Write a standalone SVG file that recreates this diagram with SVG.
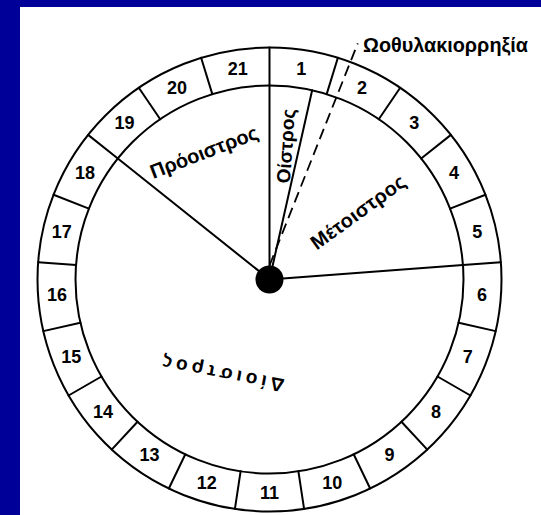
<svg xmlns="http://www.w3.org/2000/svg" width="541" height="515" viewBox="0 0 541 515">
<style>
.ln{stroke:#000;stroke-width:2;fill:none;stroke-linecap:round}
.dash{stroke:#000;stroke-width:1.8;fill:none;stroke-dasharray:11 6}
.num{font-family:"Liberation Sans",Arial,sans-serif;font-weight:bold;font-size:18px;fill:#000;text-anchor:middle;dominant-baseline:central}
.lbl{font-family:"Liberation Sans",Arial,sans-serif;font-weight:bold;font-size:20px;fill:#000;text-anchor:middle;dominant-baseline:central}
</style>
<rect x="0" y="0" width="541" height="515" fill="#000099"/>
<rect x="20" y="7" width="521" height="508" fill="#ffffff"/>
<g id="wheel" transform="translate(269.5,279.5)">
<circle class="ln" r="232"/>
<circle class="ln" r="194"/>
<g id="dividers" class="ln">
<line x1="0" y1="-194" x2="0" y2="-232"/>
<line x1="57.18" y1="-185.38" x2="68.38" y2="-221.69"/>
<line x1="109.28" y1="-160.29" x2="130.69" y2="-191.69"/>
<line x1="151.68" y1="-120.96" x2="181.38" y2="-144.65"/>
<line x1="180.59" y1="-70.88" x2="215.96" y2="-84.76"/>
<line x1="193.46" y1="-14.50" x2="231.35" y2="-17.34"/>
<line x1="189.14" y1="43.17" x2="226.18" y2="51.62"/>
<line x1="168.01" y1="97" x2="200.92" y2="116"/>
<line x1="131.95" y1="142.21" x2="157.80" y2="170.07"/>
<line x1="84.17" y1="174.79" x2="100.66" y2="209.03"/>
<line x1="28.91" y1="191.83" x2="34.58" y2="229.41"/>
<line x1="-28.91" y1="191.83" x2="-34.58" y2="229.41"/>
<line x1="-84.17" y1="174.79" x2="-100.66" y2="209.03"/>
<line x1="-131.95" y1="142.21" x2="-157.80" y2="170.07"/>
<line x1="-168.01" y1="97" x2="-200.92" y2="116"/>
<line x1="-189.14" y1="43.17" x2="-226.18" y2="51.62"/>
<line x1="-193.46" y1="-14.50" x2="-231.35" y2="-17.34"/>
<line x1="-180.59" y1="-70.88" x2="-215.96" y2="-84.76"/>
<line x1="-151.68" y1="-120.96" x2="-181.38" y2="-144.65"/>
<line x1="-109.28" y1="-160.29" x2="-130.69" y2="-191.69"/>
<line x1="-57.18" y1="-185.38" x2="-68.38" y2="-221.69"/>
</g>
<g id="numbers">
<text class="num" x="31.75" y="-210.62">1</text>
<text class="num" x="92.42" y="-191.91">2</text>
<text class="num" x="144.88" y="-156.14">3</text>
<text class="num" x="184.46" y="-106.5">4</text>
<text class="num" x="207.66" y="-47.40">5</text>
<text class="num" x="212.40" y="15.92">6</text>
<text class="num" x="198.28" y="77.82">7</text>
<text class="num" x="166.53" y="132.80">8</text>
<text class="num" x="119.99" y="175.99">9</text>
<text class="num" x="62.78" y="203.54">10</text>
<text class="num" x="0" y="213">11</text>
<text class="num" x="-62.78" y="203.54">12</text>
<text class="num" x="-119.99" y="175.99">13</text>
<text class="num" x="-166.53" y="132.80">14</text>
<text class="num" x="-198.28" y="77.82">15</text>
<text class="num" x="-212.40" y="15.92">16</text>
<text class="num" x="-207.66" y="-47.40">17</text>
<text class="num" x="-184.46" y="-106.5">18</text>
<text class="num" x="-144.88" y="-156.14">19</text>
<text class="num" x="-92.42" y="-191.91">20</text>
<text class="num" x="-31.75" y="-210.62">21</text>
</g>
<g id="connectors">
<line class="ln" x1="0" y1="0" x2="0" y2="-194"/>
<line class="ln" x1="0" y1="0" x2="42.65" y2="-189.25"/>
<line class="ln" x1="0" y1="0" x2="193.46" y2="-14.50"/>
<line class="ln" x1="0" y1="0" x2="-151.68" y2="-120.96"/>
<line class="dash" x1="0" y1="-14" x2="88.25" y2="-236.05"/>
</g>
<circle id="center" r="14" fill="#000"/>
</g>
<g id="phase-labels">
<text class="lbl" transform="translate(204,152) rotate(-21)" textLength="114" lengthAdjust="spacing">Πρόοιστρος</text>
<text class="lbl" transform="translate(286,146) rotate(-86)" style="font-size:19px" textLength="75" lengthAdjust="spacing">Οίστρος</text>
<text class="lbl" transform="translate(358,212) rotate(-36)" textLength="112" lengthAdjust="spacing">Μέτοιστρος</text>
<text class="lbl" transform="translate(223,374) rotate(191)" style="font-size:19px" textLength="124" lengthAdjust="spacing">Δίοιστρος</text>
</g>
<text id="ovulation" class="lbl" x="363" y="52" style="text-anchor:start;dominant-baseline:auto" textLength="165" lengthAdjust="spacingAndGlyphs">Ωοθυλακιορρηξία</text>
</svg>
